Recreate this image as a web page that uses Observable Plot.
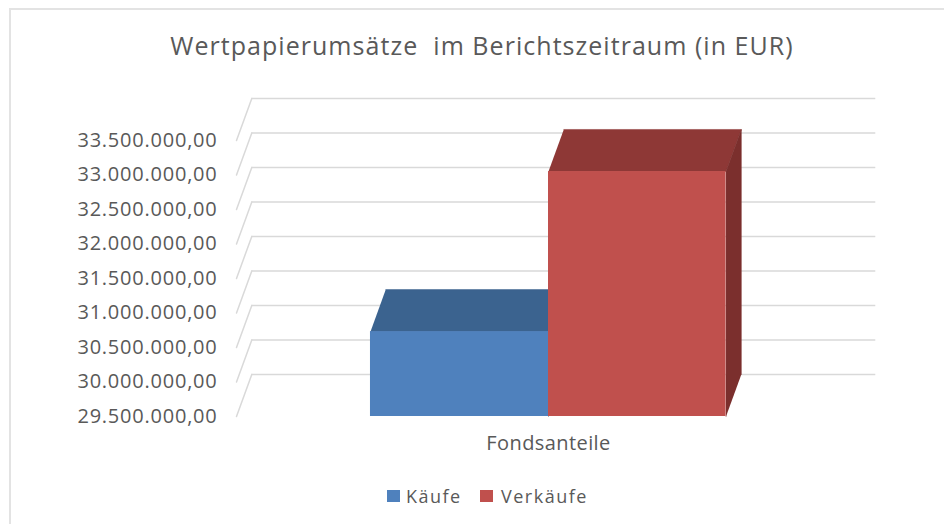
<!DOCTYPE html>
<html lang="de">
<head>
<meta charset="utf-8">
<script src="https://cdn.jsdelivr.net/npm/d3@7"></script>
<script src="https://cdn.jsdelivr.net/npm/@observablehq/plot@0.6"></script>
<style>
  html, body { margin: 0; padding: 0; background: #fff; }
  body { width: 944px; height: 524px; overflow: hidden; position: relative; font-family: "Open Sans", sans-serif; color: #595959; }
  #frame { position: absolute; left: 9px; top: 8px; right: 0; bottom: 0; border-left: 2px solid #e3e3e3; border-top: 2px solid #e3e3e3; pointer-events: none; }
  #title { height: 70px; box-sizing: border-box; padding-top: 27px; text-align: center; font-size: 25px; line-height: 36px; letter-spacing: 1.04px; white-space: pre; position: relative; left: 10px; }
  #chart svg { display: block; }
  #chart g[aria-label="y-axis tick label"] text { letter-spacing: 0.77px; }
  #chart g[aria-label="x-axis tick label"] text { letter-spacing: 0.42px; }
  #legend { position: relative; height: 54px; font-size: 18px; letter-spacing: 1.5px; }
  #legend span.k { position: absolute; top: 20px; width: 13px; height: 12px; }
  #legend span.t { position: absolute; top: 14px; line-height: 24px; white-space: nowrap; }
</style>
</head>
<body>
<div id="frame"></div>
<div id="title">Wertpapierumsätze  im Berichtszeitraum (in EUR)</div>
<div id="chart"></div>
<div id="legend"></div>
<script>
const categories = ["Fondsanteile"];
const series = ["Käufe", "Verkäufe"];
const values = [30730000, 33050000];
const frontColors = ["#4f81bd", "#c0504d"];
const topColors = ["#3b638f", "#8e3836"];
const sideColors = ["#3b638f", "#7b2f2d"];
const yTicks = [29500000, 30000000, 30500000, 31000000, 31500000, 32000000, 32500000, 33000000, 33500000];
const barStart = [0.2147, 0.5];
const barEnd = [0.5, 0.7845];
const depthX = 0.0245;
const depthY = 610000;
const base = yTicks[0];

const fmt = new Intl.NumberFormat("de-DE", { minimumFractionDigits: 2, maximumFractionDigits: 2 });
const face = (pts, fill) => Plot.line(pts, { x: "x", y: "y", fill, stroke: fill, strokeWidth: 0.5, curve: "linear" });

const marks = [];
marks.push(Plot.ruleY(yTicks, { y: d => d + depthY, x1: depthX, x2: 1 + depthX, stroke: "#d9d9d9", strokeWidth: 1.5 }));
for (const t of yTicks) {
  marks.push(Plot.line([{ x: 0, y: t }, { x: depthX, y: t + depthY }], { x: "x", y: "y", stroke: "#d9d9d9", strokeWidth: 1.5 }));
}
series.forEach((s, i) => {
  const x0 = barStart[i], x1 = barEnd[i], v = values[i];
  marks.push(face([{ x: x0, y: v }, { x: x1, y: v }, { x: x1 + depthX, y: v + depthY }, { x: x0 + depthX, y: v + depthY }], topColors[i]));
  marks.push(face([{ x: x1, y: base }, { x: x1, y: v }, { x: x1 + depthX, y: v + depthY }, { x: x1 + depthX, y: base + depthY }], sideColors[i]));
  marks.push(Plot.rect([{ x0, x1, v }], { x1: "x0", x2: "x1", y1: () => base, y2: "v", fill: frontColors[i] }));
});
marks.push(Plot.axisY({ ticks: yTicks, tickFormat: d => fmt.format(d), tickSize: 0, tickPadding: 19, label: null, fontSize: 20, fill: "#595959" }));
marks.push(Plot.axisX({ ticks: [0.5], tickFormat: () => categories[0], tickSize: 0, tickPadding: 19, label: null, fontSize: 20, fill: "#595959" }));

const plot = Plot.plot({
  width: 944,
  height: 400,
  marginLeft: 236, marginRight: 84, marginTop: 70, marginBottom: 54,
  style: { fontFamily: "'Open Sans', sans-serif", background: "transparent", overflow: "visible" },
  x: { domain: [0, 1], range: [236, 860] },
  y: { domain: [yTicks[0], yTicks[yTicks.length - 1]], range: [346, 70] },
  marks
});
document.getElementById("chart").appendChild(plot);

const legend = document.getElementById("legend");
const legendKeyX = [387, 480];
const legendTextX = [406, 501];
series.forEach((s, i) => {
  const k = document.createElement("span");
  k.className = "k"; k.style.left = legendKeyX[i] + "px"; k.style.background = frontColors[i];
  const t = document.createElement("span");
  t.className = "t"; t.style.left = legendTextX[i] + "px"; t.textContent = s;
  legend.append(k, t);
});
</script>
</body>
</html>
